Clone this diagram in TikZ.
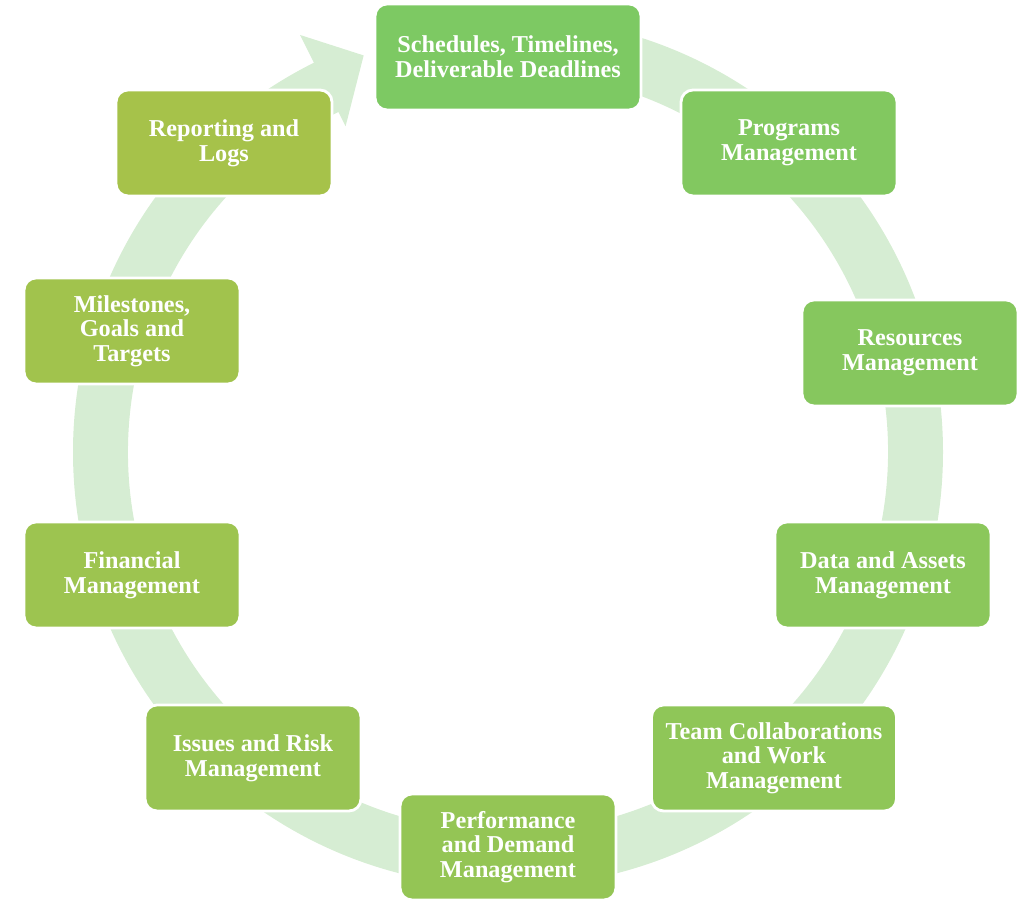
\documentclass[tikz,border=0pt]{standalone}
\usepackage{fontspec}
\setmainfont{Liberation Serif}
\usetikzlibrary{shapes}
\definecolor{ring}{RGB}{214,237,211}
\definecolor{grn}{RGB}{125,201,99}
\definecolor{olv}{RGB}{166,194,74}
\tikzstyle{mbox}=[rectangle,rounded corners=0.24cm,draw=white,line width=1.6pt,minimum width=4.32cm,minimum height=2.12cm,align=center,text=white,inner sep=2pt,font=\bfseries\fontsize{13.8}{14}\selectfont]

\begin{document}
\begin{tikzpicture}[x=0.02cm,y=0.02cm]
\useasboundingbox (0,0) rectangle (1024,908);
% circular arrow behind the boxes
\fill[ring,shift={(508,456)}] (90:435) arc[start angle=90,end angle=-243.5,radius=435]
  -- (-243.5:466) -- (-250:422) -- (-243.5:364) -- (-243.5:380)
  arc[start angle=-243.5,end angle=90,radius=380] -- cycle;
\node[mbox,fill=olv!0!grn,minimum width=5.32cm] (sched) at (508,851) {Schedules, Timelines,\\Deliverable Deadlines};
\node[mbox,fill=olv!11!grn] (prog) at (789,765) {Programs\\Management};
\node[mbox,fill=olv!22!grn] (res) at (910,555) {Resources\\Management};
\node[mbox,fill=olv!33!grn] (data) at (883,333) {Data and Assets\\Management};
\node[mbox,fill=olv!44!grn,minimum width=4.9cm] (team) at (774,150) {Team Collaborations\\and Work\\Management};
\node[mbox,fill=olv!55!grn] (perf) at (508,61) {Performance\\and Demand\\Management};
\node[mbox,fill=olv!66!grn] (risk) at (253,150) {Issues and Risk\\Management};
\node[mbox,fill=olv!77!grn] (fin) at (132,333) {Financial\\Management};
\node[mbox,fill=olv!88!grn] (mile) at (132,577) {Milestones,\\Goals and\\Targets};
\node[mbox,fill=olv!100!grn] (rep) at (224,765) {Reporting and\\Logs};
\end{tikzpicture}
\end{document}
